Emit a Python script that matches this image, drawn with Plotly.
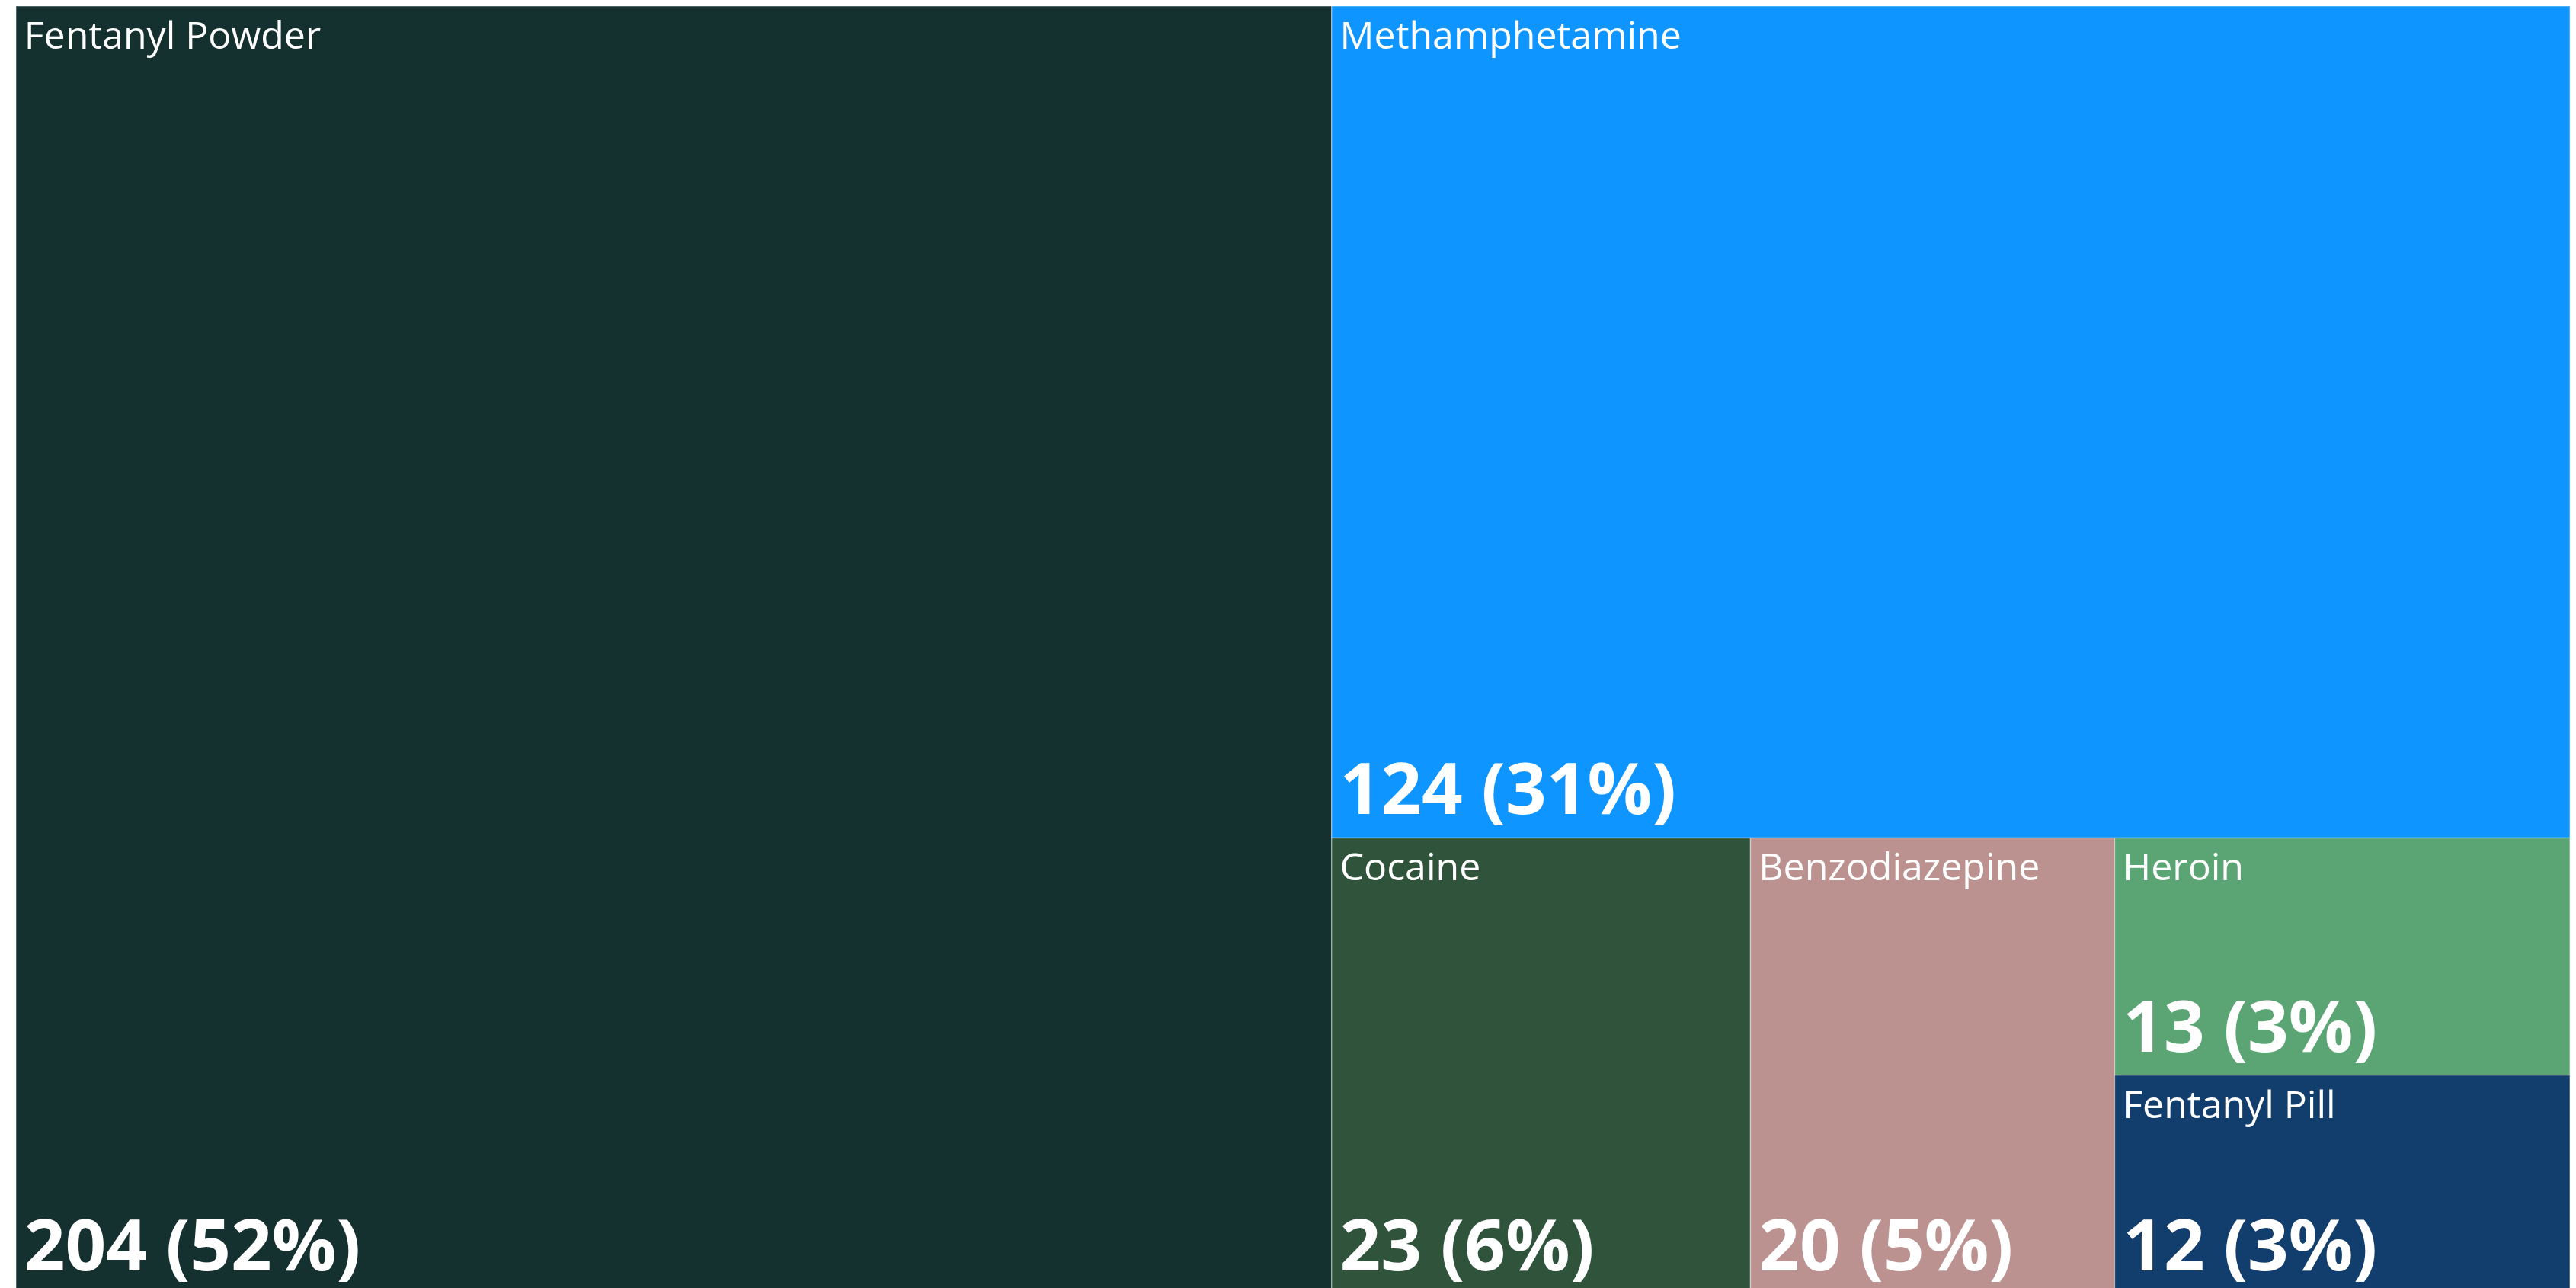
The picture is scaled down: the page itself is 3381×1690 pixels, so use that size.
import plotly.graph_objects as go

categories = ["Fentanyl Powder", "Methamphetamine", "Cocaine", "Benzodiazepine", "Heroin", "Fentanyl Pill"]
counts = [204, 124, 23, 20, 13, 12]
tile_colors = ["#14302F", "#0F95FF", "#2F533B", "#BC9290", "#5BA574", "#123E6D"]
parents = [""] * len(categories)

FONT = "Segoe UI, Open Sans, sans-serif"
NO_PAD = dict(t=0, l=0, r=0, b=0)
INSET = '<span style="font-size:30px">&nbsp;</span>'

fig = go.Figure()

# tiles with category labels (top-left)
fig.add_trace(go.Treemap(
    labels=categories,
    parents=parents,
    values=counts,
    sort=False,
    marker=dict(colors=tile_colors, line=dict(width=1.5, color="rgba(255,255,255,0.35)"), pad=NO_PAD),
    tiling=dict(packing="squarify", squarifyratio=1, pad=0),
    pathbar=dict(visible=False),
    texttemplate=INSET + "%{label}",
    textposition="top left",
    textfont=dict(family=FONT, size=50, color="white"),
    hoverinfo="label+value+percent root",
))

# overlay with value + share (bottom-left)
fig.add_trace(go.Treemap(
    labels=categories,
    parents=parents,
    values=counts,
    sort=False,
    marker=dict(colors=["rgba(0,0,0,0)"] * len(categories), line=dict(width=0), pad=NO_PAD),
    tiling=dict(packing="squarify", squarifyratio=1, pad=0),
    pathbar=dict(visible=False),
    texttemplate=INSET + "%{value} (%{percentRoot:.0%})",
    textposition="bottom left",
    textfont=dict(family=FONT, size=94, color="white", weight="bold"),
    hoverinfo="skip",
))

fig.update_layout(
    width=3381,
    height=1690,
    margin=dict(l=13, r=16, t=0, b=0),
    paper_bgcolor="white",
    plot_bgcolor="white",
    showlegend=False,
)

fig.write_html("out.html")
